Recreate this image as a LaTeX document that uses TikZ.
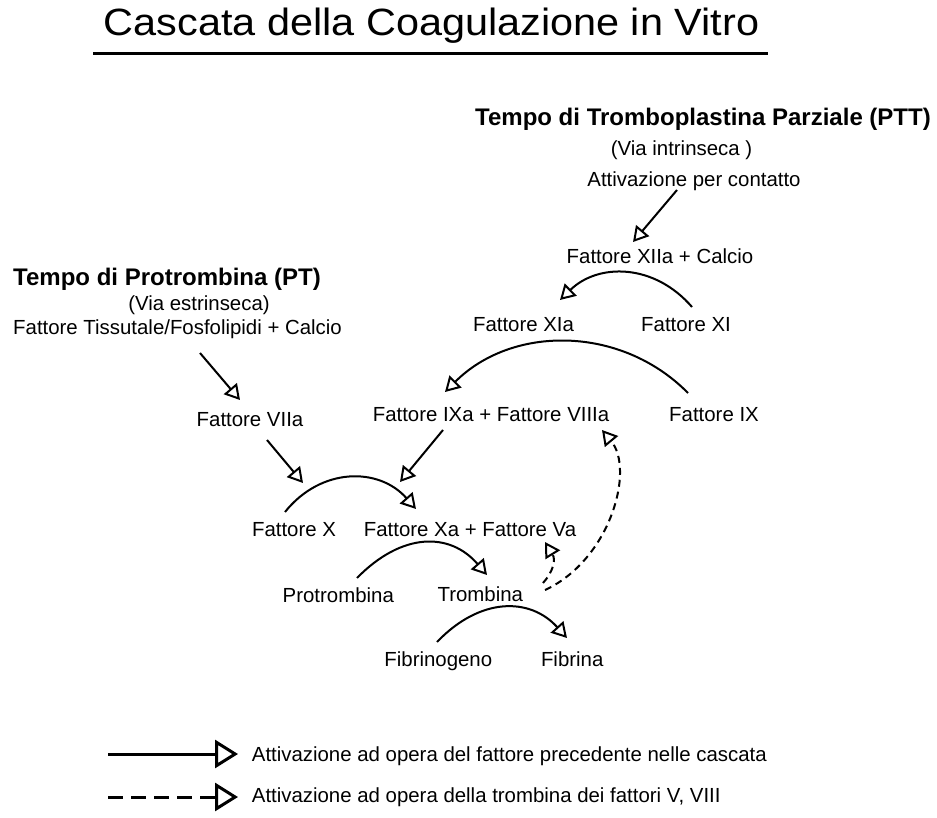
\documentclass[tikz,border=0pt]{standalone}
\usepackage{graphicx}
\usepackage{fontspec}
\setmainfont{Liberation Sans}
\usetikzlibrary{arrows.meta,calc}
\begin{document}
\begin{tikzpicture}[x=1pt,y=-1pt,
  lbl/.style={inner sep=0pt, font=\fontsize{20.4}{24}\selectfont, text height=14.6pt, text depth=0pt},
  hdr/.style={inner sep=0pt, font=\bfseries\fontsize{24}{28}\selectfont, text height=17.2pt, text depth=0pt},
  ttl/.style={inner sep=0pt, font=\fontsize{38}{44}\selectfont, text height=27.2pt, text depth=0pt},
  act/.style={line width=2pt, -{Triangle[open,length=15pt,width=17pt,line width=2pt]}},
  thr/.style={act, dash pattern=on 7pt off 5pt},
  legsolid/.style={line width=3pt, -{Triangle[open,length=23pt,width=28pt,line width=3pt]}},
  legdash/.style={legsolid, dash pattern=on 15pt off 8pt}
]
\useasboundingbox (0,0) rectangle (937,818);
\fill[white] (0,0) rectangle (937,818);

% title
\node[ttl] (title) at (431.5,21.5) {\scalebox{1.09}[1]{Cascata della Coagulazione in Vitro}};
\draw[line width=3pt] (93,54) -- (768,54);

% labels
\node[hdr] (ptt) at (703,117) {Tempo di Tromboplastina Parziale (PTT)};
\node[lbl] (intr) at (681.5,148) {(Via intrinseca )};
\node[lbl] (cont) at (694,179) {Attivazione per contatto};
\node[lbl] (xiia) at (660,256.7) {Fattore XIIa + Calcio};
\node[lbl] (xia) at (523.5,323.7) {Fattore XIa};
\node[lbl] (xi) at (686,323.7) {Fattore XI};
\node[lbl] (ixa) at (491,413.7) {Fattore IXa + Fattore VIIIa};
\node[lbl] (ix) at (714,414) {Fattore IX};
\node[hdr] (pt) at (167,276.7) {Tempo di Protrombina (PT)};
\node[lbl] (estr) at (199,303.3) {(Via estrinseca)};
\node[lbl] (tiss) at (177.5,327.3) {Fattore Tissutale/Fosfolipidi + Calcio};
\node[lbl] (viia) at (250,418.7) {Fattore VIIa};
\node[lbl] (fx) at (294,528.7) {Fattore X};
\node[lbl] (xava) at (470,528.7) {Fattore Xa + Fattore Va};
\node[lbl] (protr) at (338.3,595.5) {Protrombina};
\node[lbl] (tromb) at (480.3,594.5) {Trombina};
\node[lbl] (fibg) at (438.3,658.8) {Fibrinogeno};
\node[lbl] (fib) at (572.2,658.8) {Fibrina};
\node[lbl, anchor=west] (leg1) at (251.7,753.7) {Attivazione ad opera del fattore precedente nelle cascata};
\node[lbl, anchor=west] (leg2) at (251.7,795.5) {Attivazione ad opera della trombina dei fattori V, VIII};

% connectors
\draw[act] ($(cont)+(-17,11)$) -- ($(xiia)+(-27,-14.7)$);
\draw[act] ($(xi)+(6,-16.7)$) .. controls ($(xi)+(-32,-60.7)$) and ($(xia)+(74.5,-60.7)$) .. ($(xia)+(36.5,-23.7)$);
\draw[act] ($(ix)+(-26,-21)$) .. controls ($(ix)+(-93,-89)$) and ($(ixa)+(21,-88.7)$) .. ($(ixa)+(-46,-21.7)$);
\draw[act] ($(tiss)+(22.5,25.7)$) -- ($(viia)+(-10,-18.7)$);
\draw[act] ($(viia)+(17,21.3)$) -- ($(fx)+(9,-45.7)$);
\draw[act] ($(ixa)+(-48,16.3)$) -- ($(xava)+(-70,-46.7)$);
\draw[act] ($(fx)+(-9,-16.7)$) .. controls ($(fx)+(27,-61.7)$) and ($(xava)+(-91,-61.7)$) .. ($(xava)+(-54,-19.7)$);
\draw[act] ($(protr)+(18.7,-17.5)$) .. controls ($(protr)+(63.7,-63.5)$) and ($(tromb)+(-30.3,-62.5)$) .. ($(tromb)+(6.7,-19.5)$);
\draw[act] ($(fibg)+(-1.3,-16.8)$) .. controls ($(fibg)+(41.7,-61.8)$) and ($(fib)+(-42.2,-61.8)$) .. ($(fib)+(-5.2,-20.8)$);
\draw[thr] ($(tromb)+(62.7,-11.5)$) .. controls ($(tromb)+(72.7,-22.5)$) and ($(xava)+(86,31.3)$) .. ($(xava)+(75,13.3)$);
\draw[thr] ($(tromb)+(64.7,-4.5)$) .. controls ($(tromb)+(129.7,-34.5)$) and ($(ixa)+(144,56.3)$) .. ($(ixa)+(111,16.3)$);

% legend
\coordinate (l1a) at (108,754);
\coordinate (l1b) at (238,754);
\coordinate (l2a) at (108,797);
\coordinate (l2b) at (238,797);
\draw[legsolid] (l1a) -- (l1b);
\draw[legdash] (l2a) -- (l2b);
\end{tikzpicture}
\end{document}
